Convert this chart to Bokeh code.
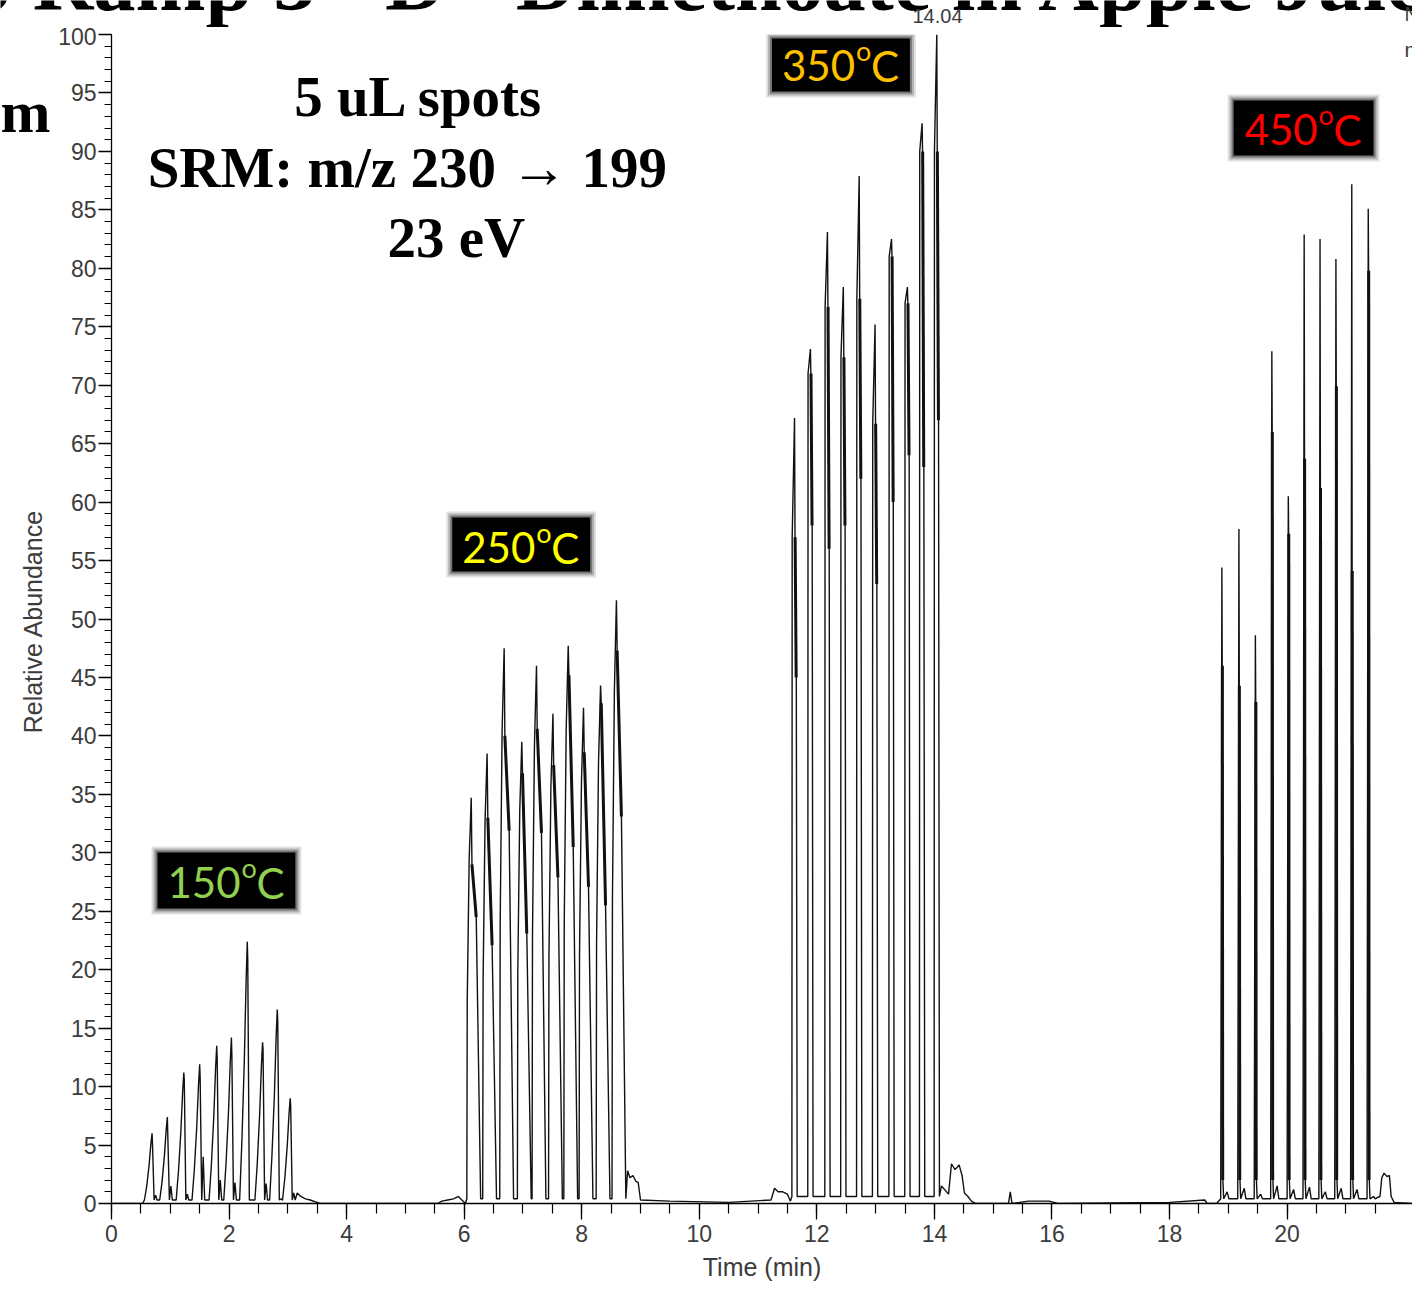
import math
from bokeh.plotting import figure
from bokeh.layouts import column, row
from bokeh.models import Range1d, Label, BoxAnnotation, FixedTicker
from bokeh.embed import file_html
from bokeh.resources import INLINE

# ---------------- data ----------------
x_ticks = [0, 2, 4, 6, 8, 10, 12, 14, 16, 18, 20]
y_ticks = [0, 5, 10, 15, 20, 25, 30, 35, 40, 45, 50, 55, 60, 65, 70, 75, 80, 85, 90, 95, 100]

# 150 C spots: apex time, apex height, level right after apex, small bump after peak
t150 = [0.69, 0.95, 1.23, 1.50, 1.79, 2.04, 2.31, 2.57, 2.82, 3.04]
h150 = [6.0, 7.4, 11.2, 11.9, 13.5, 14.2, 22.4, 13.8, 16.6, 9.0]
s150 = [5.0, 5.8, 10.6, 10.8, 12.4, 12.6, 20.8, 13.2, 15.6, 8.4]
b150 = [0.7, 1.5, 0.8, 4.0, 2.0, 1.8, 0.3, 1.7, 0.4, 0.9]

# 250 C spots: apex, upper and lower end of the noisy falling edge
t250 = [6.12, 6.39, 6.68, 6.98, 7.23, 7.51, 7.77, 8.03, 8.32, 8.59]
h250 = [34.7, 38.5, 47.5, 39.5, 46.0, 41.9, 47.7, 42.4, 44.3, 51.6]
s250 = [29.0, 33.0, 40.0, 36.8, 40.6, 37.5, 45.2, 38.6, 42.8, 47.3]
r250 = [24.5, 22.1, 31.9, 23.1, 31.7, 27.9, 30.5, 27.1, 25.5, 33.1]

# 350 C spots
t350 = [11.62, 11.89, 12.18, 12.45, 12.72, 12.99, 13.27, 13.54, 13.79, 14.04]
h350 = [67.2, 73.1, 83.1, 78.4, 87.9, 75.2, 82.5, 78.4, 92.4, 100.0]
s350 = [57.0, 71.0, 76.7, 72.4, 77.4, 66.7, 81.0, 77.0, 90.0, 90.0]
r350 = [45.0, 58.0, 56.0, 58.0, 62.0, 53.0, 60.0, 64.0, 63.0, 67.0]

# 450 C spots
t450 = [18.89, 19.18, 19.46, 19.74, 20.02, 20.29, 20.56, 20.83, 21.10, 21.38]
h450 = [54.4, 57.7, 48.6, 72.9, 60.5, 82.9, 82.5, 80.8, 87.2, 85.1]
s450 = [46.0, 44.3, 42.9, 66.0, 57.3, 63.7, 61.2, 69.9, 54.1, 79.8]
b450 = [1.0, 1.3, 0.8, 1.5, 1.2, 1.4, 1.0, 1.3, 1.2, 0.6]

# baseline, tails and small bumps between the spot groups
base_t = [0.0, 0.53, 3.16, 3.22, 3.30, 3.38, 3.46, 3.55,
          5.55, 5.62, 5.72, 5.82, 5.90, 5.96, 6.02,
          8.78, 8.82, 8.87, 8.92, 8.96, 9.00, 9.50, 10.50,
          11.22, 11.28, 11.34, 11.42, 11.50, 11.55,
          14.12, 14.24, 14.29, 14.35, 14.42, 14.47, 14.51, 14.57, 14.63, 14.70,
          15.26, 15.29, 15.32, 15.60, 15.75, 15.95, 16.10, 18.00, 18.60, 18.64, 18.80,
          21.53, 21.58, 21.61, 21.65, 21.70, 21.74, 21.77, 21.82, 22.13]
base_y = [0.0, 0.0, 0.9, 0.6, 0.4, 0.3, 0.15, 0.0,
          0.0, 0.2, 0.3, 0.4, 0.6, 0.3, 0.0,
          2.8, 2.2, 2.4, 1.9, 1.8, 0.3, 0.2, 0.1,
          0.3, 1.3, 1.0, 1.0, 0.8, 0.2,
          1.5, 0.8, 3.4, 2.9, 3.3, 2.4, 0.9, 0.6, 0.2, 0.0,
          0.0, 1.0, 0.0, 0.2, 0.2, 0.2, 0.0, 0.1, 0.3, 0.0, 0.0,
          0.5, 0.6, 2.2, 2.6, 2.3, 2.4, 0.6, 0.1, 0.0]

temp_text = ["150", "250", "350", "450"]
temp_color = ["#92D050", "#FFFF00", "#FFC000", "#FF0000"]

# ---------------- build trace vertices ----------------
pts = list(zip(base_t, base_y))
for t, h, s, b in zip(t150, h150, s150, b150):
    pts += [(t - 0.13, 0.3), (t - 0.09, 0.25 * h), (t - 0.05, 0.55 * h), (t - 0.02, 0.85 * h),
            (t, h), (t + 0.008, s), (t + 0.035, 0.3), (t + 0.06, b), (t + 0.085, 0.3)]
for t, h, s, r in zip(t250, h250, s250, r250):
    pts += [(t - 0.075, 0.4), (t - 0.068, 0.5 * h), (t - 0.035, 0.85 * h), (t, h),
            (t + 0.012, s), (t + 0.085, r), (t + 0.16, 0.4)]
for t, h, s, r in zip(t350, h350, s350, r350):
    pts += [(t - 0.045, 0.6), (t - 0.04, s), (t, h), (t + 0.008, s), (t + 0.03, r), (t + 0.045, 0.6)]
for t, h, s, b in zip(t450, h450, s450, b450):
    pts += [(t - 0.02, 0.4), (t, h), (t + 0.006, s), (t + 0.018, 2.0), (t + 0.03, 0.4),
            (t + 0.09, b), (t + 0.12, 0.4)]
pts.sort(key=lambda q: q[0])
xs = [q[0] for q in pts]
ys = [q[1] for q in pts]

# ---------------- page geometry (pixels of the whole page) ----------------
W, H = 1412, 1290
TOP_H = 27          # strip above the plot (clipped slide title, apex time)
LEFT_W = 55         # strip left of the y tick labels (slide letter + axis title)
FL, FT, FB = 110, 34, 1203
PX_PER_MIN = 1293 / 21.98
X0, Y0, Y1 = 0.0, 0.0, 100.0
X1 = (W - FL) / PX_PER_MIN
BASE_SHIFT = 0.37   # alphabetic baseline correction (fraction of font size)


def dx(px):
    return X0 + (px - FL) / PX_PER_MIN


def dy(py):
    return Y0 + (FB - py) * (Y1 - Y0) / (FB - FT)


def fsz(size):
    return float(size.replace("px", ""))


# ---------------- main chromatogram figure ----------------
p = figure(width=W - LEFT_W, height=H - TOP_H, output_backend="svg", toolbar_location=None,
           x_range=Range1d(X0, X1), y_range=Range1d(Y0, Y1),
           min_border_left=FL - LEFT_W, min_border_right=0, min_border_top=FT - TOP_H,
           min_border_bottom=H - FB)
p.outline_line_color = None
p.xgrid.visible = False
p.ygrid.visible = False
p.background_fill_color = "white"
p.border_fill_color = "white"

p.line(xs, ys, line_color="#111111", line_width=1.4)
# dense noisy falling edges drawn as heavier strokes
p.segment(x0=[t + 0.012 for t in t250], y0=s250, x1=[t + 0.085 for t in t250], y1=r250,
          line_color="#111111", line_width=3)
p.segment(x0=[t + 0.01 for t in t350], y0=s350, x1=[t + 0.028 for t in t350], y1=r350,
          line_color="#111111", line_width=3)
p.segment(x0=[t + 0.008 for t in t450], y0=s450, x1=[t + 0.014 for t in t450], y1=[2.0] * len(t450),
          line_color="#111111", line_width=3)

axis_col = "#3c3c3c"
for ax in (p.xaxis, p.yaxis):
    ax.axis_line_color = "black"
    ax.axis_line_width = 1.3
    ax.major_tick_line_color = "black"
    ax.major_tick_line_width = 1.3
    ax.minor_tick_line_color = "black"
    ax.minor_tick_line_width = 1.2
    ax.major_tick_in = 0
    ax.minor_tick_in = 0
    ax.major_label_text_font = "Liberation Sans"
    ax.major_label_text_font_size = "23px"
    ax.major_label_text_color = axis_col
    ax.axis_label_text_font = "Liberation Sans"
    ax.axis_label_text_font_size = "25px"
    ax.axis_label_text_font_style = "normal"
    ax.axis_label_text_color = axis_col

p.xaxis.ticker = FixedTicker(ticks=x_ticks, minor_ticks=[i * 0.5 for i in range(0, 44)])
p.yaxis.ticker = FixedTicker(ticks=y_ticks, minor_ticks=list(range(0, 101)))
p.xaxis.major_tick_out = 16
p.xaxis.minor_tick_out = 10
p.yaxis.major_tick_out = 13
p.yaxis.minor_tick_out = 7
p.xaxis.major_label_standoff = 5
p.yaxis.major_label_standoff = 2
p.xaxis.axis_label = "Time (min)"
p.xaxis.axis_label_standoff = 8


def lab(fig, text, x, y, size, font="Liberation Sans", color="black", style="normal",
        align="left", angle=0.0):
    fig.add_layout(Label(x=x, y=y, text=text, text_font=font, text_font_size=size,
                         text_color=color, text_font_style=style, text_align=align,
                         text_baseline="alphabetic", angle=angle))


def lab_main(text, px, py, size, **kw):
    lab(p, text, dx(px), dy(py - BASE_SHIFT * fsz(size)), size, **kw)


lab_main("5 uL spots", 418, 117, "57px", font="Liberation Serif", style="bold", align="center")
lab_main("SRM: m/z 230 \u2192 199", 406, 188, "57px", font="Liberation Serif", style="bold", align="center")
lab_main("23 eV", 455, 258, "57px", font="Liberation Serif", style="bold", align="center")
lab_main("m/z", 1404, 57, "21px", color=axis_col)

# temperature boxes
boxes = [(156, 294, 852, 908), (451, 589, 517, 571), (771, 909, 38, 91), (1233, 1373, 100, 155)]
text_pos = [(166, 898), (461, 563), (781, 81), (1244, 145)]
for (l, r, t, b), (tx, ty), txt, col in zip(boxes, text_pos, temp_text, temp_color):
    for grow, alpha in ((6, 0.12), (4, 0.2), (2, 0.35), (0, 1.0)):
        p.add_layout(BoxAnnotation(left=dx(l - grow), right=dx(r + grow), top=dy(t - grow),
                                   bottom=dy(b + grow), fill_color="black", fill_alpha=alpha,
                                   line_color=None))
    lab_main(txt, tx, ty, "42px", font="Lato", color=col)
    lab_main("o", tx + 74, ty - 21, "27px", font="Lato", color=col)
    lab_main("C", tx + 89, ty, "42px", font="Lato", color=col)


def blank(width, height):
    f = figure(width=width, height=height, output_backend="svg", toolbar_location=None,
               x_range=Range1d(0, width), y_range=Range1d(0, height),
               x_axis_location=None, y_axis_location=None,
               min_border_left=0, min_border_right=0, min_border_top=0, min_border_bottom=0)
    f.outline_line_color = None
    f.xgrid.visible = False
    f.ygrid.visible = False
    f.background_fill_color = "white"
    f.border_fill_color = "white"
    return f


# ---------------- strip above the plot: clipped slide title, apex time ----------------
top = blank(W, TOP_H)


def lab_top(text, px, py, size, **kw):
    lab(top, text, px, TOP_H - (py - BASE_SHIFT * fsz(size)), size, **kw)


lab_top("Temp Ramp 3 - D - Dimethoate in Apple Juice", -191, 12, "84px",
        font="Liberation Serif", style="bold")
lab_top("14.04", 937, 22.5, "20px", color=axis_col, align="center")
lab_top("NL:", 1404, 21, "20px", color=axis_col)

# ---------------- strip left of the plot: slide letter, y-axis title ----------------
left = blank(LEFT_W, H - TOP_H)


def lab_left(text, px, py, size, **kw):
    lab(left, text, px, H - (py - BASE_SHIFT * fsz(size)), size, **kw)


lab_left("m", 0, 133, "60px", font="Liberation Serif", style="bold")
left.add_layout(Label(x=32, y=H - 782, text="Relative Abundance",
                      text_font="Liberation Sans", text_font_size="25px", text_color=axis_col,
                      text_align="left", text_baseline="alphabetic", angle=math.pi / 2))

layout = column(top, row(left, p, spacing=0), spacing=0)
open("out.html", "w").write(file_html(layout, INLINE))
